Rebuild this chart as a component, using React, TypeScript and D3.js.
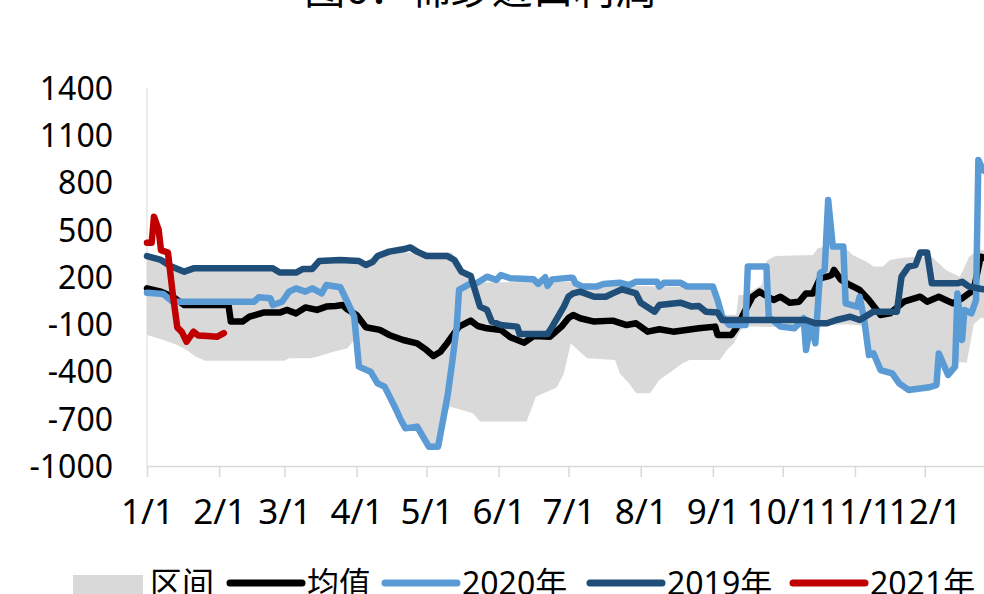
import React, { useEffect, useRef } from 'react';
import * as d3 from 'd3';

// x = day of year (0 = 1/1), y = 进口利润 (元/吨)
const monthStarts = [0, 31, 59, 90, 120, 151, 181, 212, 243, 273, 304, 334];
const monthLabels = ['1/1', '2/1', '3/1', '4/1', '5/1', '6/1', '7/1', '8/1', '9/1', '10/1', '11/1', '12/1'];
const yTicks = [-1000, -700, -400, -100, 200, 500, 800, 1100, 1400];

const bandTop: [number, number][] = [
  [0, 333], [6, 308], [10, 270], [16, 234], [20, 255], [54, 255], [57, 228], [64, 228], [67, 251], [71, 251],
  [74, 302], [83, 308], [91, 302], [94, 276], [97, 297], [99, 333], [104, 355], [131, 355], [135, 234], [137, 200],
  [139, 165], [182, 170], [185, 150], [243, 135], [245, 50], [247, -40], [253, -40], [254, 86], [257, 86], [258, 100],
  [264, 150], [266, 300], [268, 320], [270, 333], [286, 340], [288, 382], [292, 393], [300, 382], [303, 340], [309, 297],
  [312, 266], [316, 266], [319, 308], [323, 319], [330, 329], [337, 329], [340, 287], [343, 245], [349, 202], [350.5, 245],
  [353, 329], [357, 371], [365, 371],
];

const bandBottom: [number, number][] = [
  [0, -168], [7, -200], [13, -232], [17, -263], [21, -306], [25, -331], [59, -331], [61, -316], [70, -316], [73, -306],
  [80, -274], [86, -253], [89, -200], [91, -369], [96, -401], [99, -475], [102, -496], [106, -612], [109, -708], [111, -761],
  [116, -750], [121, -877], [125, -877], [128, -700], [130, -623], [140, -665], [143, -718], [163, -718], [167, -560], [176, -500],
  [179, -412], [182, -221], [185, -263], [189, -316], [201, -327], [203, -412], [207, -475], [210, -538], [216, -538], [220, -454],
  [225, -401], [230, -348], [233, -327], [246, -327], [249, -263], [252, -221], [255, -136], [257, -115], [282, -120], [283, -263],
  [285, -120], [287, -221], [288, -110], [300, -100], [308, -110], [310, -295], [312, -285], [315, -391], [320, -412], [323, -475],
  [327, -517], [336, -500], [339, -486], [340, -285], [344, -422], [347, -369], [349, -340], [352, -345], [355, -100], [358, -60],
  [365, -60],
];

const mean: [number, number][] = [
  [0, 128], [6, 107], [11, 75], [16, 22], [35, 22], [36, -83], [41, -83], [44, -52], [50, -26], [57, -26],
  [60, -9], [64, -31], [68, 7], [73, -9], [77, 12], [81, 16], [84, 22], [86, -5], [90, -41], [94, -119],
  [100, -136], [104, -168], [110, -200], [116, -221], [120, -263], [123, -301], [126, -274], [129, -217], [134, -115], [139, -77],
  [142, -111], [146, -126], [152, -136], [156, -183], [162, -217], [166, -175], [173, -179], [178, -115], [181, -60], [183, -41],
  [186, -62], [192, -83], [200, -77], [206, -105], [210, -94], [215, -147], [220, -132], [226, -147], [237, -126], [244, -115],
  [245, -168], [251, -168], [253, -126], [257, -9], [260, 75], [263, 107], [269, 54], [272, 75], [276, 37], [280, 43],
  [283, 96], [286, 96], [289, 192], [292, 202], [294, 213], [295, 245], [298, 181], [302, 149], [306, 118], [310, 54],
  [315, -41], [319, -31], [325, 43], [332, 75], [335, 43], [340, 75], [346, 33], [350, 64], [355, 118], [358, 329],
  [362, 310], [365, 300],
];

const y2020: [number, number][] = [
  [0, 100], [7, 92], [11, 43], [46, 43], [48, 71], [53, 65], [54, 22], [58, 43], [61, 107], [64, 128],
  [68, 107], [71, 128], [75, 96], [77, 149], [83, 135], [86, 43], [89, -52], [91, -369], [96, -401], [99, -475],
  [102, -496], [106, -612], [109, -708], [111, -761], [116, -750], [121, -877], [125, -877], [129, -560], [131, -348], [133, -115],
  [134, 118], [139, 160], [141, 156], [146, 202], [150, 181], [152, 213], [156, 192], [166, 185], [168, 156], [171, 198],
  [172, 143], [174, 185], [182, 196], [183, 192], [184, 160], [187, 139], [193, 139], [196, 156], [203, 164], [207, 149],
  [210, 170], [219, 170], [220, 139], [222, 164], [229, 164], [232, 139], [243, 139], [245, 54], [247, -52], [250, -105],
  [257, -105], [258, 266], [266, 266], [267, -52], [272, -115], [278, -126], [282, -62], [283, -263], [285, -94], [287, -221],
  [289, 223], [291, 245], [292.5, 689], [294.5, 393], [299, 393], [300, 33], [305, 12], [306, 75], [308, -73], [310, -295],
  [312, -285], [315, -391], [320, -412], [323, -475], [327, -517], [336, -500], [339, -486], [340, -285], [344, -422], [347, -369],
  [348, 96], [350, -200], [351, -9], [354, -31], [356, 54], [357, 943], [359, 879], [362, 850], [365, 850],
];

const y2019: [number, number][] = [
  [0, 333], [6, 308], [10, 270], [16, 234], [20, 255], [54, 255], [57, 228], [64, 228], [67, 251], [71, 251],
  [74, 302], [83, 308], [91, 302], [94, 276], [97, 297], [99, 333], [104, 361], [110, 376], [113, 388], [116, 361],
  [120, 333], [129, 333], [132, 308], [135, 234], [139, 206], [143, 12], [146, -9], [148, -83], [152, -105], [159, -115],
  [160, -162], [172, -162], [174, -115], [179, 12], [181, 75], [183, 96], [186, 107], [192, 75], [197, 75], [200, 96],
  [204, 122], [210, 96], [212, 37], [218, -20], [220, 22], [229, 37], [234, 12], [237, 16], [240, -20], [245, -26],
  [247, -73], [283, -73], [287, -94], [292, -94], [296, -73], [302, -52], [306, -73], [312, -20], [322, -20], [324, 202],
  [327, 266], [330, 276], [332, 355], [335, 355], [337, 160], [348, 160], [350, 170], [353, 139], [359, 122], [365, 115],
];

const y2021: [number, number][] = [
  [0, 418], [2, 418], [3, 583], [5, 500], [6, 371], [9, 355], [11, 100], [13, -120], [15, -150], [17, -211],
  [20, -147], [22, -172], [26, -175], [30, -180], [33, -156],
];

const seriesList = [
  { name: '均值', data: mean, color: '#000000' },
  { name: '2020年', data: y2020, color: '#5B9BD5' },
  { name: '2019年', data: y2019, color: '#1F4E79' },
  { name: '2021年', data: y2021, color: '#C00000' },
];

const FONT = '"Noto Sans", "Noto Sans CJK SC", sans-serif';

function Chart() {
  const ref = useRef<SVGSVGElement>(null);

  useEffect(() => {
    const width = 984, height = 594;
    const svg = d3.select(ref.current);
    svg.selectAll('*').remove();

    const x = d3.scaleLinear().domain([0, 365]).range([147, 997]);
    const y = d3.scaleLinear().domain([-1000, 1400]).range([466, 88]);

    // title (mostly above the frame)
    svg.append('text')
      .attr('x', 480).attr('y', 4)
      .attr('text-anchor', 'middle')
      .attr('font-family', FONT).attr('font-size', 41)
      .text('图6：棉纱进口利润');

    // range band
    const poly = bandTop.concat(bandBottom.slice().reverse());
    svg.append('path')
      .attr('d', d3.line<[number, number]>().x(d => x(d[0])).y(d => y(d[1]))(poly) + 'Z')
      .attr('fill', '#D9D9D9');

    // y axis line + labels
    svg.append('line')
      .attr('x1', x(0)).attr('x2', x(0))
      .attr('y1', y(1400)).attr('y2', y(-1000))
      .attr('stroke', '#D9D9D9').attr('stroke-width', 1);

    svg.append('g')
      .attr('font-family', FONT).attr('font-size', 32)
      .attr('text-anchor', 'end')
      .selectAll('text')
      .data(yTicks)
      .join('text')
        .attr('x', 113)
        .attr('y', d => y(d))
        .attr('dy', '0.37em')
        .text(d => d);

    // x axis
    const xAxis = d3.axisBottom(x)
      .tickValues(monthStarts)
      .tickFormat((_, i) => monthLabels[i])
      .tickSize(11)
      .tickPadding(22)
      .tickSizeOuter(0);
    const gx = svg.append('g')
      .attr('transform', `translate(0,${y(-1000)})`)
      .call(xAxis);
    gx.select('.domain').attr('stroke', '#D9D9D9').attr('stroke-width', 1.5);
    gx.selectAll('.tick line').attr('stroke', '#D9D9D9').attr('stroke-width', 1.5);
    gx.selectAll('.tick text')
      .attr('font-family', FONT).attr('font-size', 35).attr('fill', '#000');

    // lines
    const line = d3.line<[number, number]>().x(d => x(d[0])).y(d => y(d[1]));
    svg.append('g')
      .selectAll('path')
      .data(seriesList)
      .join('path')
        .attr('d', d => line(d.data))
        .attr('fill', 'none')
        .attr('stroke', d => d.color)
        .attr('stroke-width', 6.5)
        .attr('stroke-linejoin', 'round')
        .attr('stroke-linecap', 'round');

    // legend
    const lg = svg.append('g').attr('font-family', FONT).attr('font-size', 32);
    lg.append('rect').attr('x', 73).attr('y', 575).attr('width', 70).attr('height', 30).attr('fill', '#D9D9D9');
    lg.append('text').attr('x', 150).attr('y', 595).text('区间');
    const legendX = [230, 385, 590, 793];
    seriesList.forEach((s, i) => {
      lg.append('line')
        .attr('x1', legendX[i]).attr('x2', legendX[i] + 72)
        .attr('y1', 583).attr('y2', 583)
        .attr('stroke', s.color).attr('stroke-width', 7)
        .attr('stroke-linecap', 'round');
      lg.append('text').attr('x', legendX[i] + 77).attr('y', 595).text(s.name);
    });

    svg.attr('width', width).attr('height', height);
  }, []);

  return <svg ref={ref} style={{ position: 'absolute', left: 0, top: 0, display: 'block', background: '#fff' }} />;
}

export default function App() {
  return <Chart />;
}
